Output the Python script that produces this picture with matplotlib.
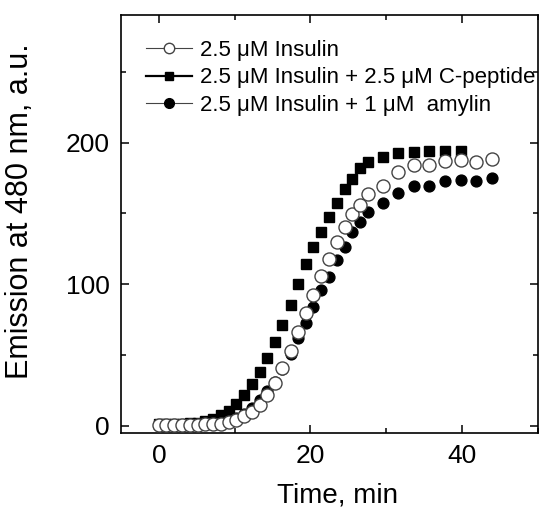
import matplotlib
matplotlib.use('Agg')
import matplotlib.pyplot as plt
from matplotlib.lines import Line2D
from matplotlib.ticker import MultipleLocator

plt.rcParams['font.family'] = ['Liberation Sans', 'DejaVu Sans']

# time points, min
time = [0, 1.0, 2.0, 3.1, 4.1, 5.1, 6.1, 7.1, 8.2, 9.2, 10.2, 11.2, 12.3, 13.3,
        14.3, 15.3, 16.3, 17.4, 18.4, 19.4, 20.4, 21.4, 22.5, 23.5, 24.5, 25.5,
        26.5, 27.6, 29.6, 31.6, 33.7, 35.7, 37.7, 39.8, 41.8, 43.9]

insulin = [0.9, 0.9, 0.9, 0.9, 0.9, 0.9, 1.2, 1.4, 1.6, 2.6, 4.5, 6.8, 9.9, 14.6,
           22.1, 30.6, 41.0, 53.0, 66.2, 79.4, 92.3, 105.8, 117.5, 130.0, 140.6, 149.6,
           155.9, 163.7, 169.2, 179.5, 184.2, 184.2, 187.3, 187.8, 186.6, 188.2]

cpep = [1.0, 1.0, 1.2, 1.4, 1.8, 2.4, 3.3, 5.0, 7.8, 10.6, 15.3, 21.5, 29.3, 37.7,
        48.2, 59.0, 71.1, 85.3, 99.9, 114.3, 126.5, 137.1, 147.2, 157.1, 167.0, 174.1,
        181.9, 186.0, 190.1, 192.5, 193.2, 194.1, 194.2, 194.0]

amylin = [0.9, 0.9, 0.9, 0.9, 1.0, 1.0, 1.3, 1.8, 2.5, 3.5, 5.5, 8.5, 12.5, 18.0,
          24.5, 31.0, 40.0, 51.0, 62.0, 72.6, 84.1, 95.9, 104.9, 117.1, 126.1, 137.1,
          144.2, 151.0, 157.0, 164.5, 169.0, 169.0, 173.0, 173.6, 173.2, 174.8]

labels = ['2.5 μM Insulin',
          '2.5 μM Insulin + 2.5 μM C-peptide',
          '2.5 μM Insulin + 1 μM  amylin']

fig = plt.figure(figsize=(5.4, 5.14), dpi=100)
ax = fig.add_axes([0.224, 0.1576, 0.772, 0.8132])

ax.plot(time[:len(cpep)], cpep, 's', color='black', ms=6.8, zorder=2)
ax.plot(time, amylin, 'o', color='black', ms=7.8, zorder=3)
ax.plot(time, insulin, 'o', mfc='white', mec='#444444', mew=1.0, ms=9.4, zorder=4)

ax.set_xlim(-5, 50)
ax.set_ylim(-5, 290)
ax.xaxis.set_major_locator(MultipleLocator(20))
ax.xaxis.set_minor_locator(MultipleLocator(10))
ax.yaxis.set_major_locator(MultipleLocator(100))
ax.yaxis.set_minor_locator(MultipleLocator(50))
ax.tick_params(which='both', direction='in', top=True, right=True, width=1.1)
ax.tick_params(which='major', length=6, labelsize=19, pad=8)
ax.tick_params(which='minor', length=3.5)
for s in ax.spines.values():
    s.set_linewidth(1.2)

ax.set_xlabel('Time, min', fontsize=20)
ax.set_ylabel('Emission at 480 nm, a.u.', fontsize=22)
ax.xaxis.set_label_coords(0.52, -0.118)
ax.yaxis.set_label_coords(-0.205, 0.531)

handles = [
    Line2D([], [], color='#444444', lw=0.8, marker='o', mfc='white', mec='#444444', ms=7.5),
    Line2D([], [], color='black', lw=1.6, marker='s', mfc='black', mec='black', ms=6),
    Line2D([], [], color='#444444', lw=0.8, marker='o', mfc='black', mec='black', ms=7),
]
ax.legend(handles, labels, loc='upper left', bbox_to_anchor=(0.022, 0.978), frameon=False,
          fontsize=16, handlelength=2.1, handletextpad=0.36, labelspacing=0.3,
          borderaxespad=0.3)

fig.savefig('out.png', dpi=100)
